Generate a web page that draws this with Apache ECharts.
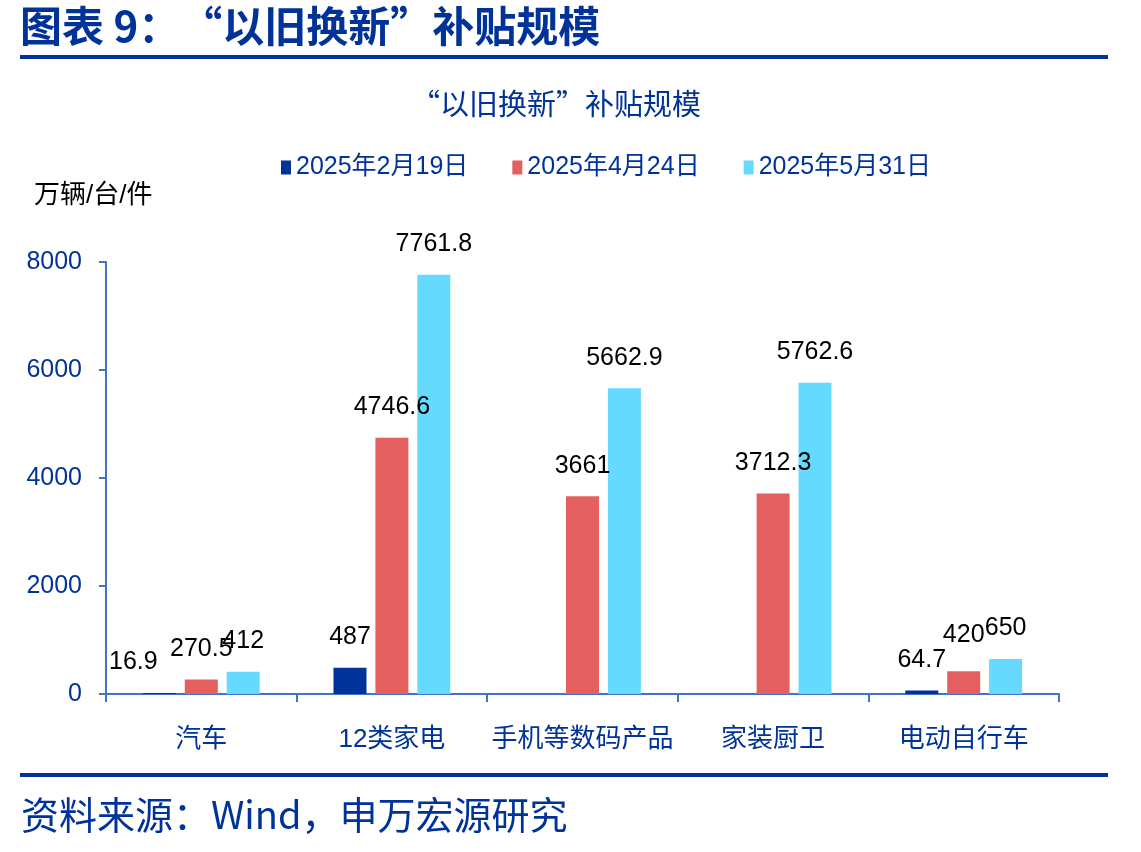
<!DOCTYPE html>
<html lang="zh-CN" style="height: 100%">
<head>
  <meta charset="utf-8">
  <title>以旧换新补贴规模</title>
</head>
<body style="height: 100%; margin: 0">
  <div id="container" style="width: 1141px; height: 852px"></div>
  <script type="text/javascript" src="https://cdn.jsdelivr.net/npm/echarts@6.0.0/dist/echarts.min.js"></script>
  <script type="text/javascript">
    var categories = ['汽车', '12类家电', '手机等数码产品', '家装厨卫', '电动自行车'];
    var seriesNames = ['2025年2月19日', '2025年4月24日', '2025年5月31日'];
    var febData = [16.9, 487, null, null, 64.7];
    var aprData = [270.5, 4746.6, 3661, 3712.3, 420];
    var mayData = [412, 7761.8, 5662.9, 5762.6, 650];
    var colors = ['#003399', '#E46060', '#66D9FF'];

    var blue = '#003399';
    var fontFamily = '"Liberation Sans", Arial, "Noto Sans CJK SC", sans-serif';

    var dom = document.getElementById('container');
    var myChart = echarts.init(dom, null, { renderer: 'canvas' });

    function makeSeries(name, data, color) {
      return {
        name: name,
        type: 'bar',
        data: data,
        barWidth: 33,
        barGap: '27%',
        itemStyle: { color: color },
        label: {
          show: true,
          position: 'top',
          distance: 18,
          color: '#000',
          fontSize: 25,
          fontFamily: fontFamily
        }
      };
    }

    // 个别标签在原图中手动挪开了位置
    var febSeries = makeSeries(seriesNames[0], febData, colors[0]);
    febSeries.data = febData.map(function (v, i) {
      if (i === 0) {
        return { value: v, label: { offset: [-26, 0] } };
      }
      return v;
    });
    var aprSeries = makeSeries(seriesNames[1], aprData, colors[1]);
    aprSeries.data = aprData.map(function (v, i) {
      if (i === 4) {
        return { value: v, label: { offset: [0, -6] } };
      }
      return v;
    });
    var maySeries = makeSeries(seriesNames[2], mayData, colors[2]);

    var option = {
      animation: false,
      textStyle: { fontFamily: fontFamily },
      title: {
        text: '“以旧换新”补贴规模',
        left: 406,
        top: 84,
        textStyle: { color: blue, fontSize: 29, fontWeight: 'normal', fontFamily: '"Noto Sans CJK SC", sans-serif' }
      },
      legend: {
        top: 150,
        left: 276,
        itemWidth: 10,
        itemHeight: 14,
        itemGap: 44,
        icon: 'rect',
        textStyle: { color: blue, fontSize: 25, fontFamily: fontFamily },
        data: seriesNames
      },
      grid: {
        left: 106,
        right: 82,
        top: 262,
        bottom: 158,
        containLabel: false
      },
      xAxis: {
        type: 'category',
        data: categories,
        axisLine: { lineStyle: { color: '#4472C4', width: 2 } },
        axisTick: { show: true, length: 8, lineStyle: { color: '#4472C4', width: 2 } },
        axisLabel: { color: blue, fontSize: 26, margin: 33, interval: 0, fontFamily: fontFamily }
      },
      yAxis: {
        type: 'value',
        min: 0,
        max: 8000,
        interval: 2000,
        splitLine: { show: false },
        axisLine: { show: true, lineStyle: { color: '#4472C4', width: 2 } },
        axisTick: { show: true, length: 7, lineStyle: { color: '#4472C4', width: 2 } },
        axisLabel: {
          color: blue,
          fontSize: 25,
          margin: 24,
          fontFamily: fontFamily,
          formatter: function (v) { return String(v); }
        }
      },
      graphic: [
        {
          type: 'text',
          left: 20,
          top: 5,
          style: { text: '图表 9：“以旧换新”补贴规模', fill: blue, font: 'bold 42px "Noto Sans CJK SC", sans-serif' }
        },
        {
          type: 'rect',
          shape: { x: 20, y: 55, width: 1088, height: 4 },
          style: { fill: blue }
        },
        {
          type: 'text',
          left: 34,
          top: 183,
          style: { text: '万辆/台/件', fill: '#000', font: '26px "Liberation Sans", "Noto Sans CJK SC", sans-serif' }
        },
        {
          type: 'rect',
          shape: { x: 20, y: 773, width: 1088, height: 4 },
          style: { fill: blue }
        },
        {
          type: 'text',
          left: 21,
          top: 796,
          style: { text: '资料来源：Wind，申万宏源研究', fill: blue, font: '38px "Noto Sans CJK SC", sans-serif' }
        }
      ],
      series: [febSeries, aprSeries, maySeries]
    };

    myChart.setOption(option);
    window.addEventListener('resize', myChart.resize);
  </script>
</body>
</html>
